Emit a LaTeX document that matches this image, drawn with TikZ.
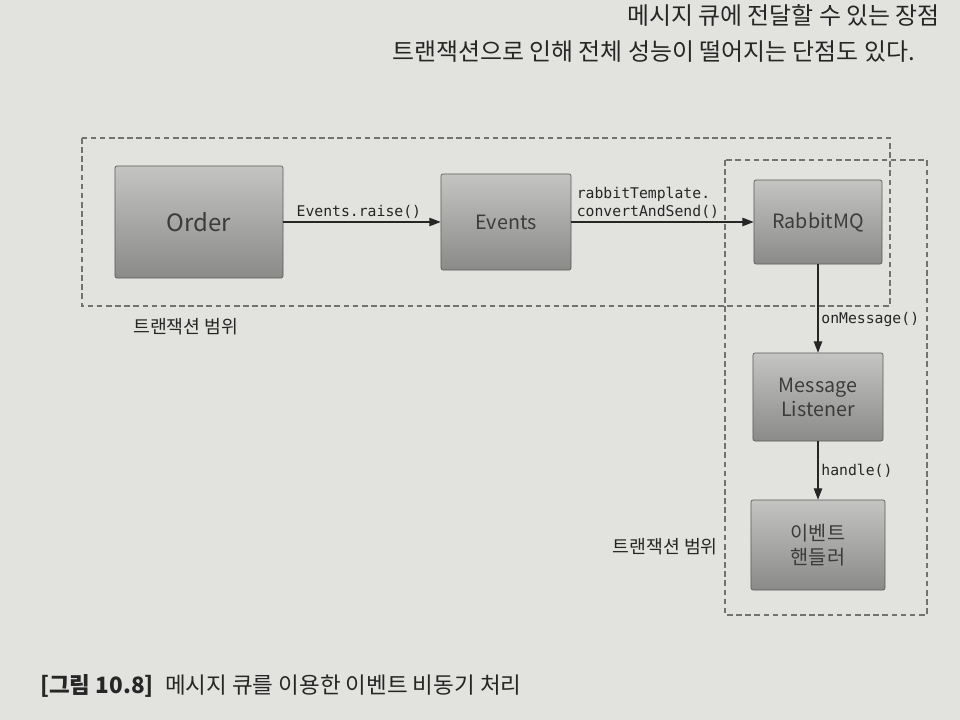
\documentclass[tikz,border=0pt]{standalone}
\usepackage{fontspec}
\setmainfont{Noto Sans CJK KR}
\setmonofont{DejaVu Sans Mono}
\usetikzlibrary{positioning,arrows.meta}
\definecolor{paper}{RGB}{226,226,223}
\definecolor{boxtop}{RGB}{196,196,194}
\definecolor{boxbot}{RGB}{138,138,136}
\definecolor{ink}{RGB}{38,38,38}
\begin{document}
\begin{tikzpicture}[x=0.025cm, y=-0.025cm,
    box/.style={draw=ink!75, line width=0.5pt, rounded corners=1.5pt,
      top color=boxtop, bottom color=boxbot, text=ink!90,
      font=\fontsize{14}{17}\selectfont, align=center, inner sep=0pt},
    txscope/.style={draw=ink!65, line width=0.8pt, dash pattern=on 4pt off 2.5pt},
    scopelabel/.style={text=ink, font=\fontsize{13}{15}\selectfont, inner sep=0pt},
    method/.style={text=ink, font=\ttfamily\fontsize{10.5}{13}\selectfont, align=left, inner sep=2pt},
    pagetext/.style={text=ink, font=\fontsize{17}{20}\selectfont, inner sep=0pt},
    >={Triangle[length=8pt,width=6pt]}]
    \fill [paper] (0,0) rectangle (960,720) ;
    \useasboundingbox (0,0) rectangle (960,720) ;

    % page text
    \node [pagetext, anchor=east] (line1) at (940,15) {메시지 큐에 전달할 수 있는 장점} ;
    \node [pagetext, anchor=east] (line2) at (915,52) {트랜잭션으로 인해 전체 성능이 떨어지는 단점도 있다.} ;

    % boxes
    \node [box, minimum width=4.2cm, minimum height=2.8cm, font=\fontsize{17}{20}\selectfont] (order) at (199,222) {Order} ;
    \node [box, minimum width=3.25cm, minimum height=2.4cm] (events) at (506,222) {Events} ;
    \node [box, minimum width=3.2cm, minimum height=2.1cm] (rabbit) at (818,222) {RabbitMQ} ;
    \node [box, minimum width=3.25cm, minimum height=2.2cm] (listener) at (818,397) {Message\\Listener} ;
    \node [box, minimum width=3.35cm, minimum height=2.25cm] (handler) at (818,545) {이벤트\\핸들러} ;

    % transaction scopes
    \draw [txscope] (82,138) rectangle (890,306) ;
    \node [scopelabel, anchor=west] (scopeA) at (133,327) {트랜잭션 범위} ;
    \draw [txscope] (725,160) rectangle (927,615) ;
    \node [scopelabel, anchor=east] (scopeB) at (718,547) {트랜잭션 범위} ;

    % calls
    \draw [->, line width=0.8pt, ink] (order) -- node [method, above, pos=0.48] {Events.raise()} (events) ;
    \draw [->, line width=0.8pt, ink] (events) -- node [method, above, pos=0.42] {rabbitTemplate.\\convertAndSend()} (rabbit) ;
    \draw [->, line width=0.8pt, ink] (rabbit) -- node [method, right, pos=0.62] {onMessage()} (listener) ;
    \draw [->, line width=0.8pt, ink] (listener) -- node [method, right] {handle()} (handler) ;

    % caption
    \node [pagetext, anchor=west, font=\fontsize{16}{19}\selectfont] (caption) at (40,686) {\textbf{[그림 10.8]}\enspace 메시지 큐를 이용한 이벤트 비동기 처리} ;
\end{tikzpicture}
\end{document}
